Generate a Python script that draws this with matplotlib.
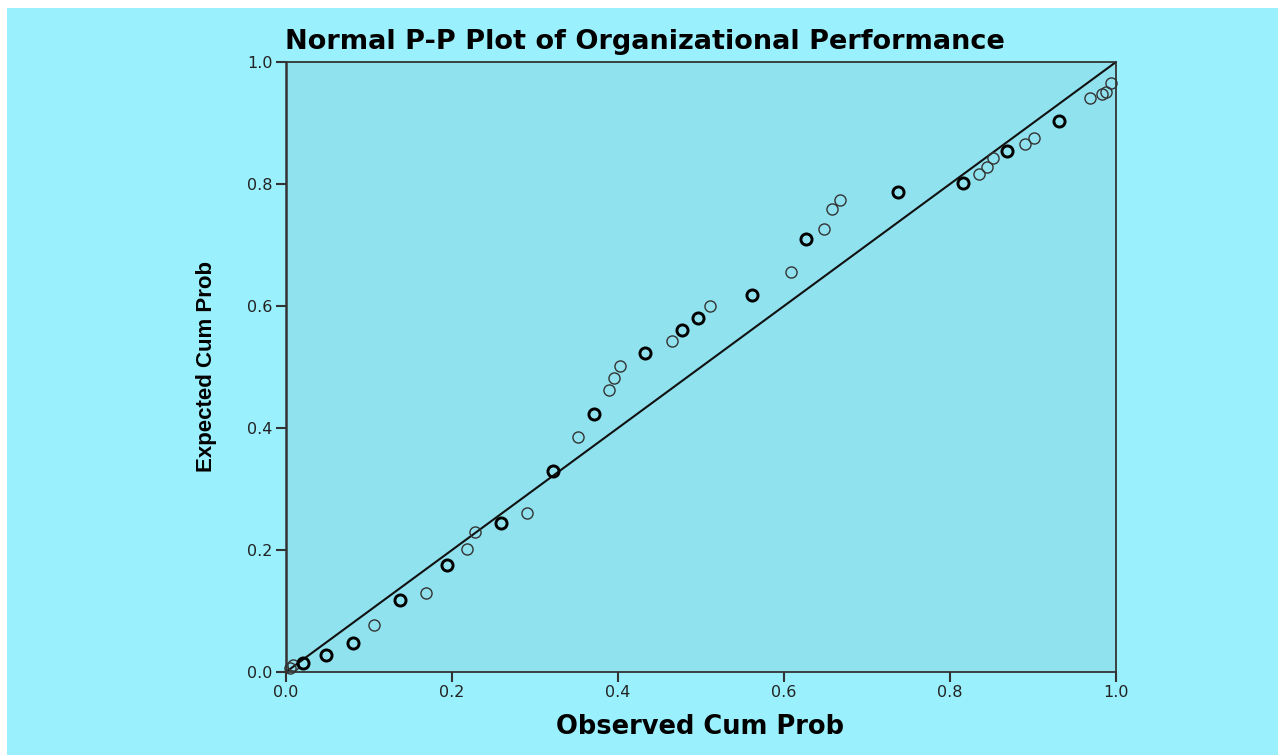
import numpy as np
import matplotlib
matplotlib.use('Agg')
import matplotlib.pyplot as plt
from matplotlib.patches import Rectangle

# observed vs expected cumulative probabilities
observed = [0.005, 0.008, 0.021, 0.048, 0.081, 0.106, 0.137, 0.169, 0.194, 0.218,
            0.228, 0.259, 0.290, 0.322, 0.352, 0.371, 0.389, 0.395, 0.402, 0.433,
            0.465, 0.477, 0.496, 0.511, 0.561, 0.608, 0.627, 0.648, 0.658, 0.667,
            0.737, 0.816, 0.835, 0.845, 0.852, 0.869, 0.890, 0.901, 0.931, 0.969,
            0.983, 0.988, 0.994]
expected = [0.007, 0.011, 0.015, 0.028, 0.048, 0.077, 0.118, 0.130, 0.175, 0.202,
            0.230, 0.244, 0.261, 0.330, 0.385, 0.423, 0.462, 0.482, 0.502, 0.523,
            0.543, 0.561, 0.580, 0.600, 0.618, 0.656, 0.710, 0.726, 0.759, 0.774,
            0.787, 0.802, 0.816, 0.828, 0.843, 0.854, 0.866, 0.875, 0.903, 0.941,
            0.948, 0.951, 0.966]
# points drawn over each other (ties) show as heavier rings
tied = [2, 3, 4, 6, 8, 11, 13, 15, 19, 21, 22, 24, 26, 30, 31, 35, 38]

ticks = [0.0, 0.2, 0.4, 0.6, 0.8, 1.0]
tick_labels = ['0.0', '0.2', '0.4', '0.6', '0.8', '1.0']

W, H = 1281, 755
fig = plt.figure(figsize=(W / 100, H / 100), dpi=100)
fig.patch.set_facecolor('white')
fig.patches.append(Rectangle((7 / W, 0), (1278 - 7) / W, (H - 8) / H,
                             transform=fig.transFigure, facecolor='#9af0fc',
                             edgecolor='none', zorder=-10))

ax = fig.add_axes([286 / W, 1 - 672 / H, (1116 - 286) / W, (672 - 62) / H])
ax.set_zorder(5)
ax.set_facecolor('#90e2ef')
ax.set_xlim(0, 1)
ax.set_ylim(0, 1)

ax.plot([0, 1], [0, 1], color='#111111', lw=1.5, zorder=2)

obs = np.array(observed)
exp = np.array(expected)
mask = np.zeros(len(obs), dtype=bool)
mask[tied] = True
ax.plot(obs[~mask], exp[~mask], 'o', ms=8, mfc='none', mec='#333333', mew=1.0,
        zorder=3, clip_on=False)
ax.plot(obs[mask], exp[mask], 'o', ms=8, mfc='none', mec='black', mew=2.1,
        zorder=3, clip_on=False)

for side in ['left', 'bottom', 'top', 'right']:
    ax.spines[side].set_color('#333333')
    ax.spines[side].set_linewidth(1.3)
ax.spines['left'].set_linewidth(1.8)

ax.set_xticks(ticks)
ax.set_xticklabels(tick_labels)
ax.set_yticks(ticks)
ax.set_yticklabels(tick_labels)
ax.tick_params(direction='out', length=7.5, width=1.5, color='#333333',
               labelsize=11.5, labelcolor='#222222', pad=2)

fig.text(645 / W, 1 - 42 / H, 'Normal P-P Plot of Organizational Performance',
         ha='center', va='center', fontsize=19.5, fontweight='bold',
         family='DejaVu Sans')
fig.text(700 / W, 1 - 727 / H, 'Observed Cum Prob', ha='center', va='center',
         fontsize=18.5, fontweight='bold', family='DejaVu Sans')
fig.text(206 / W, 1 - 367 / H, 'Expected Cum Prob', ha='center', va='center',
         rotation=90, fontsize=16, fontweight='bold', family='Liberation Sans')

fig.savefig('out.png', dpi=100)
